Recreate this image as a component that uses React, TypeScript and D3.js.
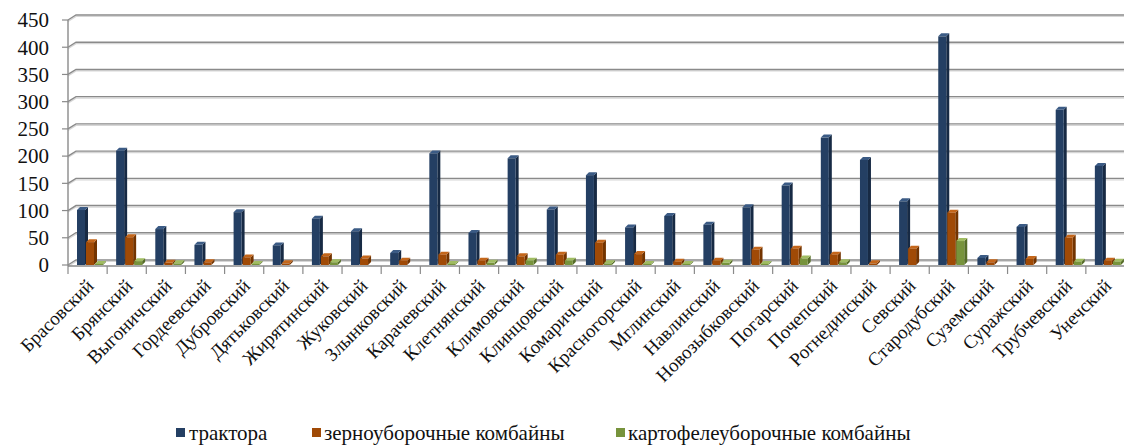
import React, {useEffect} from 'react';
import * as d3 from 'd3';

const categories = [
    'Брасовский', 'Брянский', 'Выгоничский', 'Гордеевский', 'Дубровский', 'Дятьковский',
    'Жирятинский', 'Жуковский', 'Злынковский', 'Карачевский', 'Клетнянский', 'Климовский',
    'Клинцовский', 'Комаричский', 'Красногорский', 'Мглинский', 'Навлинский', 'Новозыбковский',
    'Погарский', 'Почепский', 'Рогнединский', 'Севский', 'Стародубский', 'Суземский',
    'Суражский', 'Трубчевский', 'Унечский',
];
const tractors = [101, 210, 66, 37, 97, 36, 85, 62, 22, 205, 59, 196, 102, 165, 69, 90, 74, 106, 146, 234, 193, 117, 420, 13, 70, 285, 182];
const grainHarvesters = [42, 51, 4, 5, 14, 3, 16, 12, 8, 19, 8, 16, 19, 41, 20, 6, 8, 28, 30, 19, 3, 30, 96, 5, 11, 50, 8];
const potatoHarvesters = [2, 7, 3, 0, 2, 0, 5, 0, 0, 2, 4, 8, 8, 3, 2, 2, 4, 2, 12, 5, 0, 0, 44, 0, 0, 6, 6];
const seriesNames = ['трактора', 'зерноуборочные комбайны', 'картофелеуборочные комбайны'];
const yTicks = [0, 50, 100, 150, 200, 250, 300, 350, 400, 450];

const WIDTH = 1124;
const HEIGHT = 446;
const AXIS_X = 68;
const WALL_DX = 8; // back wall shift
const WALL_DY = 5;
const BAR_W = 8;
const BAR_D = 3; // depth of bar side/top
const FONT = "'Liberation Serif', 'Times New Roman', Tinos, 'Noto Serif', 'DejaVu Serif', FreeSerif, serif";

// front, side, top colours per series
const palette = [
    {front: '#243F63', side: '#172a44', top: '#3b5b85'},
    {front: '#A04A06', side: '#733400', top: '#c4661a'},
    {front: '#77933C', side: '#566d28', top: '#a0bc62'},
];

const App: React.FC = () => {
    useEffect(() => {
        document.body.style.margin = '0';
    }, []);

    const x = d3.scaleBand<string>().domain(categories).range([AXIS_X, WIDTH + 1]).padding(0);
    const y = d3.scaleLinear().domain([0, 450]).range([265, 20]);
    const series = d3.scaleBand<number>().domain([0, 1, 2]).range([9, 9 + 27]).padding(0);
    const seriesData = [tractors, grainHarvesters, potatoHarvesters];

    const bar = (x0: number, v: number, c: typeof palette[0], key: string) => {
        if (v <= 0) return null;
        const base = y(0);
        const top = y(v);
        const x1 = x0 + BAR_W;
        return (
            <g key={key}>
                <polygon
                    points={`${x1},${top} ${x1 + BAR_D},${top - BAR_D} ${x1 + BAR_D},${base - BAR_D} ${x1},${base}`}
                    fill={c.side}/>
                <polygon
                    points={`${x0},${top} ${x0 + BAR_D},${top - BAR_D} ${x1 + BAR_D},${top - BAR_D} ${x1},${top}`}
                    fill={c.top}/>
                <rect x={x0} y={top} width={BAR_W} height={base - top} fill={c.front}/>
            </g>
        );
    };

    const legendItems = [
        {sq: 176, tx: 189},
        {sq: 312, tx: 324},
        {sq: 616, tx: 628},
    ];

    return (
        <svg width={WIDTH} height={HEIGHT} style={{display: 'block'}}>
            <rect width={WIDTH} height={HEIGHT} fill="white"/>
            {/* back wall gridlines with the diagonal side-wall edge */}
            {yTicks.map((t) => (
                <g key={'g' + t}>
                    <path d={`M${AXIS_X},${y(t) + 1.5}L${AXIS_X + WALL_DX},${y(t) - WALL_DY + 1.5}H${WIDTH}`}
                          fill="none" stroke="#d6d6d6" strokeWidth={1.2}/>
                    <path d={`M${AXIS_X},${y(t)}L${AXIS_X + WALL_DX},${y(t) - WALL_DY}H${WIDTH}`}
                          fill="none" stroke="#8a8a8a" strokeWidth={1.4}/>
                    <line x1={AXIS_X - 6} x2={AXIS_X} y1={y(t)} y2={y(t)} stroke="#8a8a8a" strokeWidth={1.2}/>
                    <text x={49} y={y(t)} dy="0.35em" textAnchor="end" fontFamily={FONT} fontSize={21}
                          fill="#111">{t}</text>
                </g>
            ))}
            <line x1={AXIS_X} x2={AXIS_X} y1={y(450)} y2={y(0) + 1} stroke="#8a8a8a" strokeWidth={1.4}/>

            {/* bars */}
            {categories.map((cat, i) => (
                <g key={cat}>
                    {seriesData.map((vals, s) =>
                        bar((x(cat) as number) + (series(s) as number), vals[i], palette[s], cat + s))}
                </g>
            ))}

            {/* floor front edge and ticks */}
            <line x1={AXIS_X} x2={WIDTH} y1={y(0) + 1} y2={y(0) + 1} stroke="#8a8a8a" strokeWidth={1.4}/>
            {categories.map((cat) => (
                <line key={'t' + cat} x1={x(cat) as number} x2={x(cat) as number} y1={y(0) + 1} y2={y(0) + 9}
                      stroke="#8a8a8a" strokeWidth={1.2}/>
            ))}

            {/* category labels */}
            {categories.map((cat) => {
                const cx = (x(cat) as number) + x.bandwidth() / 2 + 7;
                return (
                    <text key={'l' + cat} transform={`translate(${cx},${287}) rotate(-45)`}
                          textAnchor="end" fontFamily={FONT} fontSize={19} fill="#111">{cat}</text>
                );
            })}

            {/* legend */}
            {seriesNames.map((name, s) => (
                <g key={name}>
                    <rect x={legendItems[s].sq} y={428} width={9} height={9} fill={palette[s].front}/>
                    <text x={legendItems[s].tx} y={433} dy="0.35em" fontFamily={FONT} fontSize={21}
                          fill="#111">{name}</text>
                </g>
            ))}
        </svg>
    );
};

export default App;
